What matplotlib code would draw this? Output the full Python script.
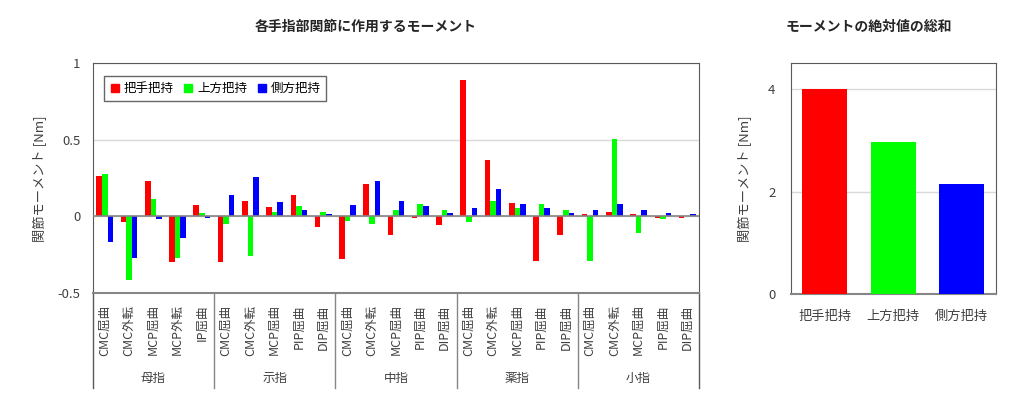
import matplotlib
matplotlib.use("Agg")
import matplotlib.pyplot as plt
from matplotlib.lines import Line2D
from matplotlib.transforms import blended_transform_factory
import numpy as np

plt.rcParams['font.family'] = ['Noto Sans CJK JP', 'DejaVu Sans']

# ---- data ----
fingers = ["母指", "示指", "中指", "薬指", "小指"]
joints = [
    "CMC屈曲", "CMC外転", "MCP屈曲", "MCP外転", "IP屈曲",
    "CMC屈曲", "CMC外転", "MCP屈曲", "PIP屈曲", "DIP屈曲",
    "CMC屈曲", "CMC外転", "MCP屈曲", "PIP屈曲", "DIP屈曲",
    "CMC屈曲", "CMC外転", "MCP屈曲", "PIP屈曲", "DIP屈曲",
    "CMC屈曲", "CMC外転", "MCP屈曲", "PIP屈曲", "DIP屈曲",
]
series_names = ["把手把持", "上方把持", "側方把持"]
handle_grip = [0.263, -0.037, 0.228, -0.299, 0.073,
               -0.295, 0.099, 0.062, 0.140, -0.067,
               -0.278, 0.211, -0.121, -0.009, -0.056,
               0.885, 0.368, 0.090, -0.293, -0.121,
               0.013, 0.028, 0.013, -0.009, -0.009]
top_grip = [0.276, -0.413, 0.114, -0.273, 0.024,
            -0.052, -0.258, 0.030, 0.069, 0.026,
            -0.030, -0.050, 0.043, 0.084, 0.039,
            -0.039, 0.103, 0.054, 0.080, 0.039,
            -0.291, 0.502, -0.106, -0.017, 0.006]
side_grip = [-0.166, -0.269, -0.015, -0.140, -0.011,
             0.140, 0.254, 0.093, 0.045, 0.015,
             0.075, 0.230, 0.101, 0.071, 0.024,
             0.054, 0.179, 0.080, 0.058, 0.024,
             0.043, 0.084, 0.039, 0.024, 0.013]
totals = [4.00, 2.96, 2.15]
colors = ["#FF0000", "#00FF00", "#0000FF"]

FRAME = "#595959"
AXLINE = "#868686"
GRID = "#D9D9D9"

fig = plt.figure(figsize=(10.24, 4.12), dpi=100)

# ---- left chart ----
ax = fig.add_axes([0.0905, 0.2881, 0.5924, 0.5597])
x = np.arange(len(joints))
w = 0.23
for i, (vals, c) in enumerate(zip([handle_grip, top_grip, side_grip], colors)):
    ax.bar(x + (i - 1) * w, vals, width=w, color=c, zorder=3)
ax.set_xlim(-0.5, len(joints) - 0.5)
ax.set_ylim(-0.5, 1.0)
ax.set_yticks([-0.5, 0, 0.5, 1])
ax.set_yticklabels(["-0.5", "0", "0.5", "1"])
ax.yaxis.grid(True, color=GRID, linewidth=1, zorder=0)
ax.axhline(0, color=AXLINE, linewidth=1.2, zorder=4)
ax.set_xticks(x)
ax.set_xticklabels(joints, rotation=90, fontsize=9, color="#404040")
ax.tick_params(axis='x', length=0, pad=8)
ax.tick_params(axis='y', length=0, pad=9, labelsize=9.5, labelcolor="#404040")
for s in ['top', 'left', 'right']:
    ax.spines[s].set_color(FRAME)
ax.spines['bottom'].set_color(AXLINE)
ax.spines['bottom'].set_linewidth(1.5)

trans = blended_transform_factory(ax.transData, ax.transAxes)
for b in [-0.5, 4.5, 9.5, 14.5, 19.5, 24.5]:
    ax.plot([b, b], [0, -0.411], transform=trans, color=AXLINE if 0 < b < 24 else FRAME,
            linewidth=1, clip_on=False)
for gi, name in enumerate(fingers):
    ax.text(gi * 5 + 2, -0.368, name, transform=trans, ha='center', va='center',
            fontsize=9, color="#404040")

handles = [Line2D([], [], marker='s', linestyle='none', color=c, markersize=6)
           for c in colors]
leg = ax.legend(handles, series_names, loc='upper left', bbox_to_anchor=(0.0186, 0.941),
                ncol=3, frameon=True, fancybox=False, borderaxespad=0,
                handlelength=0.8, handletextpad=0.3, columnspacing=0.8,
                fontsize=9, borderpad=0.45)
leg.get_frame().set_edgecolor("#404040")
leg.get_frame().set_linewidth(1)

fig.text(40 / 1024, 1 - 179 / 412, "関節モーメント [Nm]", rotation=90, ha='center',
         va='center', fontsize=9.5, color="#404040")
fig.text(366 / 1024, 1 - 26.5 / 412, "各手指部関節に作用するモーメント", ha='center',
         va='center', fontsize=10, fontweight='bold', color="#262626")

# ---- right chart ----
ax2 = fig.add_axes([0.7722, 0.2857, 0.2002, 0.5607])
xr = np.arange(len(series_names))
ax2.bar(xr, totals, width=0.66, color=colors, zorder=3)
ax2.set_xlim(-0.5, 2.5)
ax2.set_ylim(0, 4.5)
ax2.set_yticks([0, 2, 4])
ax2.yaxis.grid(True, color=GRID, linewidth=1, zorder=0)
ax2.set_xticks(xr)
ax2.set_xticklabels(series_names, fontsize=9.5, color="#404040")
ax2.tick_params(axis='x', length=0, pad=11)
ax2.tick_params(axis='y', length=0, pad=11, labelsize=9.5, labelcolor="#404040")
for s in ['top', 'left', 'right']:
    ax2.spines[s].set_color(FRAME)
ax2.spines['bottom'].set_color(AXLINE)
ax2.spines['bottom'].set_linewidth(1.5)

fig.text(745 / 1024, 1 - 179 / 412, "関節モーメント [Nm]", rotation=90, ha='center',
         va='center', fontsize=9.5, color="#404040")
fig.text(868.5 / 1024, 1 - 26.5 / 412, "モーメントの絶対値の総和", ha='center',
         va='center', fontsize=10, fontweight='bold', color="#262626")

fig.savefig("out.png", dpi=100)
